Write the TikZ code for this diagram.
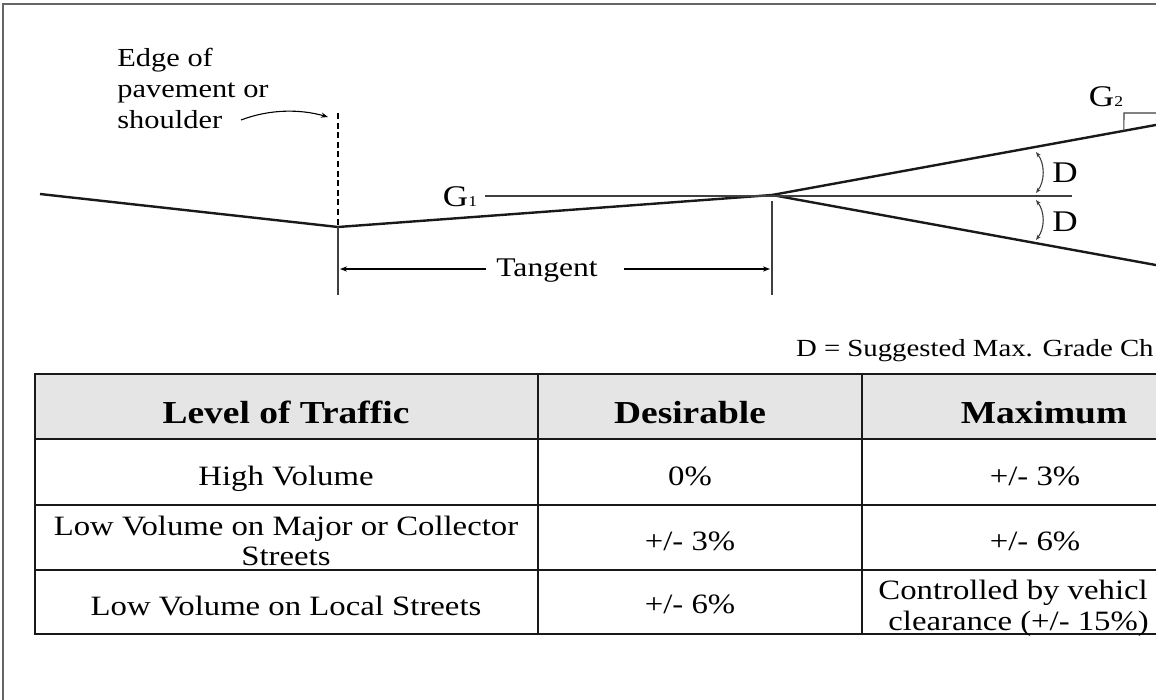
\documentclass[tikz,border=0pt]{standalone}
\usepackage{fontspec}
\setmainfont{Liberation Serif}[FakeStretch=1.17]
\usetikzlibrary{arrows.meta, calc}

\tikzset{
    road/.style={line width=1.2pt, black!90},
    guide/.style={line width=0.55pt, black!75},
    tbl/.style={line width=0.85pt, black!90},
    dimtip/.style={-{Stealth[length=3.5pt, width=2.6pt]}},
    angtip/.style={{Stealth[length=2.6pt, width=2pt]}-{Stealth[length=2.6pt, width=2pt]}},
    lbl/.style={inner sep=0pt, font=\fontsize{13.5}{15}\selectfont},
    cell/.style={inner sep=0pt, anchor=base, font=\fontsize{14}{15}\selectfont},
    head/.style={inner sep=0pt, anchor=base, font=\fontsize{16}{17}\selectfont\bfseries},
}
\newcommand{\grade}[1]{G{\fontsize{7.5}{8}\selectfont #1}}

\begin{document}
\begin{tikzpicture}[x=0.5pt, y=-0.5pt]
    \useasboundingbox (0,0) rectangle (1156,700);
    \clip (0,0) rectangle (1156,700);
    \fill[white] (0,0) rectangle (1156,700);
    \coordinate (frameBL) at (3,700);
    \coordinate (frameTL) at (3,4);
    \coordinate (frameTR) at (1156,4);
    \draw[gray!80!black, line width=1pt] (frameBL) -- (frameTL) -- (frameTR);

    % road profile
    \coordinate (shoulder) at (40,194);
    \coordinate (low) at (338,227);
    \coordinate (pvi) at (772,195);
    \coordinate (upend) at (1170,122.4);
    \coordinate (downend) at (1170,267.6);
    \draw[road] (shoulder) -- (low) -- (pvi) -- (upend);
    \draw[road] (pvi) -- (downend);

    \coordinate (edgetop) at (338,113);
    \draw[black, line width=0.85pt, dash pattern=on 3pt off 1.8pt] (edgetop) -- (low);
    \node[lbl, anchor=north west, align=left, font=\fontsize{13}{15.5}\selectfont] (edgelbl) at (117,48)
        {Edge of\\pavement or\\shoulder};
    \coordinate (ptrstart) at (241,120);
    \coordinate (ptrend) at (328,117);
    \draw[guide, black, dimtip] (ptrstart) .. controls (270,109) and (300,109) .. (ptrend);

    % tangent
    \coordinate (lowfoot) at (338,295);
    \coordinate (pvitop) at (772,201);
    \coordinate (pvifoot) at (772,295);
    \draw[guide] (low) -- (lowfoot);
    \draw[guide] (pvitop) -- (pvifoot);
    \node[lbl, anchor=base] (tangent) at (547,277) {Tangent};
    \coordinate (tanL) at (340,269);
    \coordinate (tanLa) at (486,269);
    \coordinate (tanR) at (770,269);
    \coordinate (tanRa) at (624,269);
    \draw[black, line width=0.7pt, dimtip] (tanLa) -- (tanL);
    \draw[black, line width=0.7pt, dimtip] (tanRa) -- (tanR);

    % grades
    \node[lbl, anchor=base, font=\fontsize{15}{16}\selectfont] (g1) at (460,207) {\grade{1}};
    \coordinate (levelstart) at (485,196);
    \coordinate (levelend) at (1072,196);
    \draw[guide] (levelstart) -- (levelend);
    \node[lbl, anchor=base, font=\fontsize{15}{16}\selectfont] (g2) at (1106,107) {\grade{2}};
    \coordinate (gtick) at (1124,113);
    \coordinate (gfoot) at ($(pvi)!0.884!(upend)$);
    \draw[guide] (gfoot) -- (gtick) -- (gtick -| upend);

    \coordinate (dup1) at (1036,152);
    \coordinate (dup2) at (1036,193);
    \coordinate (dlo1) at (1036,200);
    \coordinate (dlo2) at (1036,240);
    \draw[guide, angtip] (dup1) .. controls (1045,164) and (1045,181) .. (dup2);
    \draw[guide, angtip] (dlo1) .. controls (1045,212) and (1045,228) .. (dlo2);
    \node[lbl, anchor=base west, font=\fontsize{15}{16}\selectfont] (dup) at (1052,183) {D};
    \node[lbl, anchor=base west, font=\fontsize{15}{16}\selectfont] (dlo) at (1052,232) {D};
    \node[lbl, anchor=base east, font=\fontsize{12.3}{14}\selectfont] (legend) at (1154,356)
        {D = Suggested Max. Grade Ch};

    % table
    \fill[black!10] (35,374) rectangle (1240,439);
    \draw[tbl] (35,374) rectangle (1240,634);
    \foreach \y in {439,505,570}
        \draw[tbl] (35,\y) -- (1240,\y);
    \foreach \x in {538,862}
        \draw[tbl] (\x,374) -- (\x,634);

    \node[head] (hdtraffic) at (286,423) {Level of Traffic};
    \node[head] (hddes) at (690,423) {Desirable};
    \node[head] (hdmax) at (1044,423) {Maximum};

    \node[cell] (high) at (286,485) {High Volume};
    \node[cell] (highdes) at (690,485) {0\%};
    \node[cell] (highmax) at (1035,485) {+/- 3\%};

    \node[cell] (major) at (286,535) {Low Volume on Major or Collector};
    \node[cell] (majorb) at (286,565) {Streets};
    \node[cell] (majordes) at (690,550) {+/- 3\%};
    \node[cell] (majormax) at (1035,550) {+/- 6\%};

    \node[cell] (local) at (286,615) {Low Volume on Local Streets};
    \node[cell] (localdes) at (690,613) {+/- 6\%};
    \node[cell, anchor=base west] (localmax) at (878,599) {Controlled by vehicl};
    \node[cell, anchor=base west] (localmaxb) at (888,630) {clearance (+/- 15\%)};
\end{tikzpicture}
\end{document}
